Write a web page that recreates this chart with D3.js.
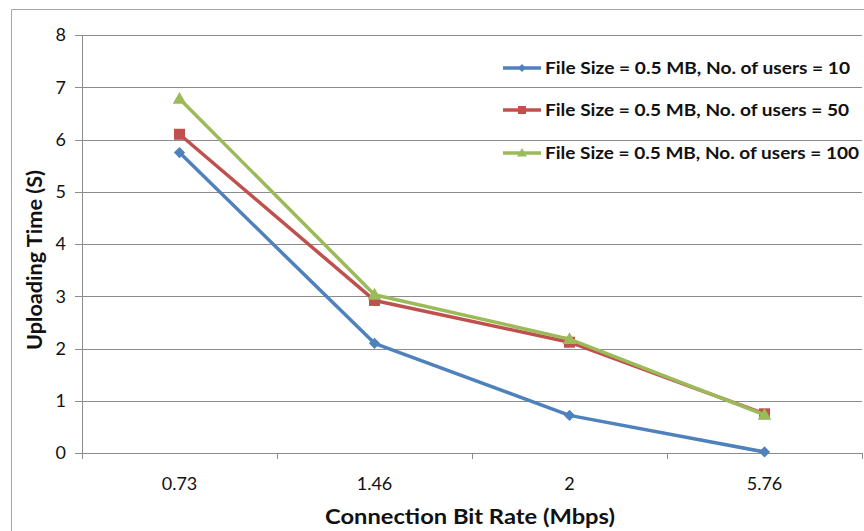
<!DOCTYPE html>
<html><head><meta charset="utf-8">
<script src="https://cdn.jsdelivr.net/npm/d3@7"></script>
<style>body{margin:0;background:#fff}svg{display:block}text{font-family:"Lato","Open Sans",sans-serif}</style>
</head><body><svg id="c" width="864" height="531"></svg>
<script>
const categories = ["0.73", "1.46", "2", "5.76"];
const seriesNames = ["File Size = 0.5 MB, No. of users = 10", "File Size = 0.5 MB, No. of users = 50", "File Size = 0.5 MB, No. of users = 100"];
const users10 = [5.75, 2.1, 0.72, 0.02];
const users50 = [6.1, 2.92, 2.12, 0.75];
const users100 = [6.78, 3.03, 2.18, 0.73];
const yTicks = [0, 1, 2, 3, 4, 5, 6, 7, 8];
const colors = ["#4F81BD", "#C0504D", "#9BBB59"];

const svg = d3.select("#c");
const L = 82, R = 862, T = 35, B = 453;
const x = d3.scaleBand().domain(categories).range([L, R]);
const y = d3.scaleLinear().domain([0, 8]).range([B, T]);

// marker drawer
function marker(g, k, cx, cy, s) {
  if (k === 0) {
    g.append("rect").attr("x", -s * 0.36).attr("y", -s * 0.36).attr("width", s * 0.72).attr("height", s * 0.72)
      .attr("transform", `translate(${cx},${cy}) rotate(45)`).attr("fill", colors[k]);
  } else if (k === 1) {
    g.append("rect").attr("x", cx - s / 2).attr("y", cy - s / 2).attr("width", s).attr("height", s).attr("fill", colors[k]);
  } else {
    g.append("path").attr("d", `M${cx},${cy - s * 0.62} L${cx + s * 0.62},${cy + s * 0.45} L${cx - s * 0.62},${cy + s * 0.45} Z`).attr("fill", colors[k]);
  }
}

// outer border
svg.append("path").attr("d", "M11.5,531 V9.5 H864").attr("fill", "none").attr("stroke", "#a6a6a6").attr("stroke-width", 1);

// gridlines
svg.append("g").selectAll("line").data(yTicks).join("line")
  .attr("x1", L - 7).attr("x2", R).attr("y1", d => Math.round(y(d)) + 0.5).attr("y2", d => Math.round(y(d)) + 0.5)
  .attr("stroke", "#8c8c8c").attr("stroke-width", 1);
svg.append("line").attr("x1", L + 0.5).attr("x2", L + 0.5).attr("y1", T).attr("y2", B + 6).attr("stroke", "#8c8c8c");
const bounds = categories.map(c => x(c)).concat([R]);
svg.append("g").selectAll("line").data(bounds).join("line")
  .attr("x1", d => Math.round(d) + 0.5).attr("x2", d => Math.round(d) + 0.5).attr("y1", B).attr("y2", B + 6).attr("stroke", "#8c8c8c");

svg.append("g").selectAll("text").data(yTicks).join("text")
  .attr("x", 66).attr("y", d => y(d)).attr("dy", "0.35em").attr("text-anchor", "end")
  .attr("font-size", 18).attr("fill", "#111").text(d => d);
svg.append("g").selectAll("text").data(categories).join("text")
  .attr("x", d => x(d) + x.bandwidth() / 2).attr("y", 490).attr("text-anchor", "middle")
  .attr("font-size", 18).attr("fill", "#111").text(d => d);

svg.append("text").attr("x", 325).attr("y", 524).attr("font-size", 21)
  .attr("font-weight", "bold").attr("fill", "#111").attr("textLength", 290).attr("lengthAdjust", "spacingAndGlyphs")
  .text("Connection Bit Rate (Mbps)");
svg.append("text").attr("transform", "translate(42,350) rotate(-90)").attr("font-size", 21)
  .attr("font-weight", "bold").attr("fill", "#111").attr("textLength", 180).attr("lengthAdjust", "spacingAndGlyphs")
  .text("Uploading Time (S)");

const series = [users10, users50, users100];
const line = d3.line().x((d, i) => x(categories[i]) + x.bandwidth() / 2).y(d => y(d));
series.forEach((s, k) => {
  svg.append("path").datum(s).attr("d", line).attr("fill", "none").attr("stroke", colors[k]).attr("stroke-width", 3.5).attr("stroke-linejoin", "round");
  const g = svg.append("g");
  s.forEach((d, i) => marker(g, k, x(categories[i]) + x.bandwidth() / 2, y(d), 11));
});

const legY = [68, 110, 153];
const legEnd = [850, 849, 859];
seriesNames.forEach((n, k) => {
  const g = svg.append("g").attr("transform", `translate(0,${legY[k]})`);
  g.append("line").attr("x1", 503).attr("x2", 541).attr("y1", 0).attr("y2", 0).attr("stroke", colors[k]).attr("stroke-width", 3.5);
  marker(g, k, 522, 0, 8);
  g.append("text").attr("x", 545).attr("y", 0).attr("dy", "0.35em").attr("font-size", 17).attr("font-weight", "bold")
    .attr("fill", "#111").attr("textLength", legEnd[k] - 545).attr("lengthAdjust", "spacingAndGlyphs").text(n);
});
</script></body></html>
